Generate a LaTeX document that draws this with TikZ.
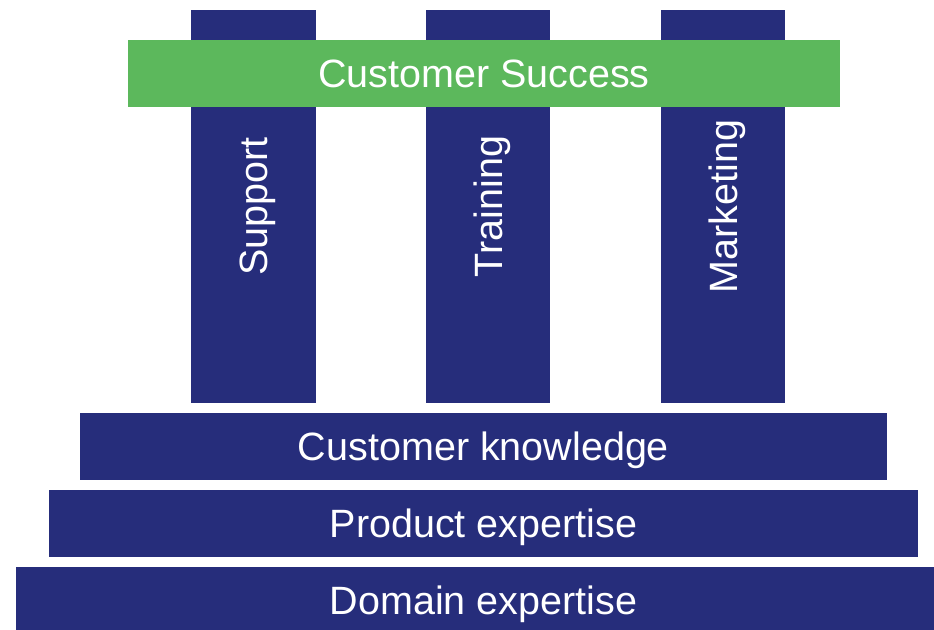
\documentclass[tikz,border=0pt]{standalone}
\usepackage{fontspec}
\setmainfont{Liberation Sans}
\definecolor{navy}{HTML}{262D7B}
\definecolor{leaf}{HTML}{5CB85C}
\tikzset{
  block/.style={fill=navy, inner sep=0pt, minimum height=67pt, text=white, text depth=0pt, font=\fontsize{39.5}{47}\selectfont},
  pillar/.style={fill=navy, inner sep=0pt, minimum width=124pt, minimum height=393pt},
  pillarlabel/.style={rotate=90, text=white, text depth=0pt, inner sep=0pt, font=\fontsize{39.5}{47}\selectfont}
}
\begin{document}
\begin{tikzpicture}[x=1pt,y=-1pt]
\useasboundingbox (0,0) rectangle (934,629);
\clip (0,0) rectangle (934,629);

% pillars
\node[pillar, minimum width=125pt] (support) at (253.5,206.5) {};
\node[pillar] (training) at (488,206.5) {};
\node[pillar] (marketing) at (723,206.5) {};

\node[pillarlabel] (supportlabel) at (support.center) {Support};
\node[pillarlabel] (traininglabel) at (training.center) {Training};
\node[pillarlabel] (marketinglabel) at (marketing.center) {Marketing};

% roof
\node[block, fill=leaf, minimum width=712pt] (success) at (484,73.5) {Customer Success};

% foundation
\node[block, minimum width=807pt] (knowledge) at (483.5,446.5) {Customer knowledge};
\node[block, minimum width=869pt] (product) at (483.5,523.5) {Product expertise};
\node[block, minimum width=935pt] (domain) at (483.5,600.5) {Domain expertise};
\end{tikzpicture}
\end{document}
